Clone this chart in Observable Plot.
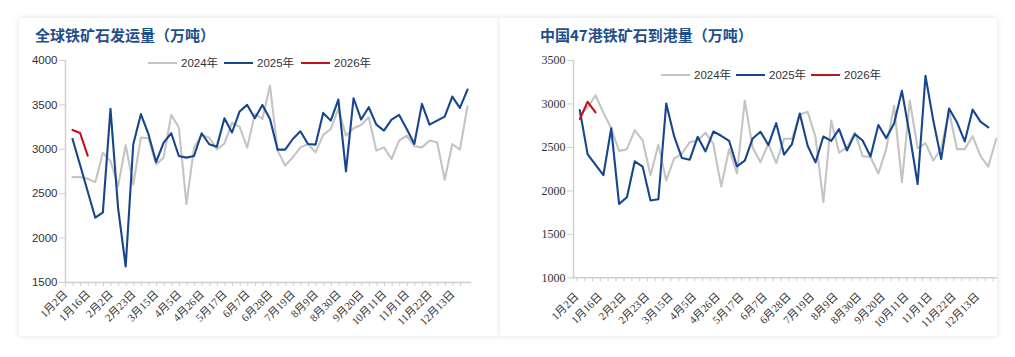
<!DOCTYPE html>
<html><head><meta charset="utf-8">
<script src="https://cdn.jsdelivr.net/npm/d3@7"></script>
<script src="https://cdn.jsdelivr.net/npm/@observablehq/plot@0.6"></script>
<style>
body{margin:0;background:#fff;width:1015px;height:357px;position:relative;overflow:hidden;font-family:"Noto Sans CJK SC",sans-serif;}
.card{position:absolute;top:18px;height:318px;background:#fff;box-shadow:0 0 6px rgba(0,0,0,0.12);}
.title{position:absolute;font-weight:700;color:#1F4E8C;font-size:15px;line-height:20px;font-family:"Noto Sans CJK SC",sans-serif;white-space:nowrap;}
.item{position:absolute;display:flex;align-items:center;font-size:11.5px;color:#333;line-height:14px;white-space:nowrap;font-family:"Liberation Sans","Noto Sans CJK SC",sans-serif;}
.sw{display:inline-block;width:29px;height:0;border-top:2.5px solid;margin-right:4px;}
.plot{position:absolute}
</style></head><body>
<div class="card" style="left:19px;width:481px"></div>
<div class="card" style="left:500px;width:497px"></div>
<div class="title" style="left:35px;top:25px">全球铁矿石发运量（万吨）</div>
<div class="title" style="left:540px;top:25px">中国47港铁矿石到港量（万吨）</div>
<div id="legL"></div><div id="legR"></div>
<div id="left" class="plot" style="left:20px;top:40px"></div>
<div id="right" class="plot" style="left:505px;top:40px"></div>
<script>
// categories (weekly)
const categories = ["1月2日","1月5日","1月12日","1月16日","1月19日","1月26日","2月2日","2月9日","2月16日","2月23日","3月2日","3月8日","3月15日","3月22日","3月29日","4月5日","4月12日","4月19日","4月26日","5月3日","5月10日","5月17日","5月24日","5月31日","6月7日","6月14日","6月21日","6月28日","7月5日","7月12日","7月19日","7月26日","8月2日","8月9日","8月16日","8月23日","8月30日","9月6日","9月13日","9月20日","9月27日","10月4日","10月11日","10月18日","10月25日","11月1日","11月8日","11月15日","11月22日","11月29日","12月6日","12月13日","12月20日","12月27日"];
const tickLabels = ["1月2日","1月16日","2月2日","2月23日","3月15日","4月5日","4月26日","5月17日","6月7日","6月28日","7月19日","8月9日","8月30日","9月20日","10月11日","11月1日","11月22日","12月13日"];
const seriesNames = ["2024年","2025年","2026年"];
const seriesColors = ["#c4c4c4","#17468c","#c0121c"];

// 全球铁矿石发运量
const shipTicks = [1500,2000,2500,3000,3500,4000];
const ship2024 = [2687,2687,2668,2630,2962,2868,2585,3045,2604,3132,
 3124,2830,2906,3388,3245,2385,3019,3158,3132,3000,
 3064,3300,3253,3019,3396,3342,3718,2985,2816,2910,
 3022,3060,2966,3162,3229,3455,3154,3237,3274,3361,
 2985,3022,2891,3098,3154,3034,3022,3098,3079,2658,
 3060,2996,3485];
const ship2025 = [3116,2823,null,2230,2289,3455,2340,1680,3057,3396,
 3170,2857,3075,3181,2925,2906,2925,3181,3057,3030,
 3350,3189,3426,3500,3350,3500,3340,2996,2996,3116,
 3203,3060,3053,3410,3323,3560,2752,3575,3335,3474,
 3278,3210,3335,3387,3229,3060,3511,3278,3323,3368,
 3594,3466,3673];
const ship2026 = [3218,3184,2928];

// 中国47港铁矿石到港量
const portTicks = [1000,1500,2000,2500,3000,3500];
const port2024 = [2870,2960,3100,2900,2720,2460,2480,2700,2580,2180,
 2530,2120,2370,2430,2560,2580,2670,2540,2050,2480,
 2200,3035,2500,2330,2540,2320,2600,2600,2880,2910,
 2620,1870,2810,2440,2500,2670,2400,2390,2200,2480,
 2980,2100,3040,2490,2550,2350,2490,2920,2480,2480,
 2630,2400,2280,2600];
const port2025 = [2929,2420,null,2180,2720,1851,1927,2340,2279,1889,
 1904,3004,2630,2378,2359,2622,2454,2683,2634,2576,
 2282,2347,2603,2680,2527,2779,2416,2538,2890,2519,
 2328,2626,2576,2710,2465,2653,2580,2395,2758,2607,
 2776,3151,2640,2079,3323,2806,2366,2948,2790,2569,
 2935,2797,2730];
const port2026 = [2826,3025,2902];

function rowsOf(cats, arrs){
  const rows=[];
  arrs.forEach((arr,k)=>arr.forEach((v,i)=>{ if(v!=null) rows.push({cat:cats[i], v, s:seriesNames[k]}); }));
  return rows;
}
const labelSet = new Set(tickLabels);

function chart(o){
  const cats = categories.slice(0, o.n);
  return Plot.plot({
    width:o.width, height:o.height,
    marginLeft:o.ml, marginRight:o.mr, marginTop:o.mt, marginBottom:o.mb,
    style:{background:"transparent", overflow:"visible"},
    x:{type:"point", domain:cats, range:o.xRange, padding:0, round:false},
    y:{domain:[o.ticks[0], o.ticks[o.ticks.length-1]]},
    color:{domain:seriesNames, range:seriesColors},
    marks:[
      Plot.axisY({ticks:o.ticks, tickFormat:d=>String(d), tickSize:6, tickPadding:2, stroke:"#d0d0d0", fill:"#333", fontSize:o.yFontSize, fontFamily:o.yFont, label:null}),
      Plot.axisX({ticks:cats, tickFormat:d=>labelSet.has(d)?d:"", tickRotate:-45, tickSize:4, tickPadding:o.xPad, dx:o.xDx, stroke:"#d0d0d0", fill:"#333", fontSize:11, fontFamily:"Liberation Serif, Noto Sans CJK SC, serif", label:null}),
      Plot.frame({anchor:"left", stroke:"#d0d0d0", strokeWidth:1.5}),
      Plot.frame({anchor:"bottom", stroke:"#d0d0d0", strokeWidth:1.5}),
      Plot.line(rowsOf(cats, o.data), {x:"cat", y:"v", z:"s", stroke:"s", strokeWidth:2.1})
    ]
  });
}

document.getElementById("left").append(chart({
  n:53, width:480, height:290, ml:45, mr:30, mt:20, mb:48, xRange:[52,447],
  ticks:shipTicks, yFont:"Liberation Sans, sans-serif", yFontSize:11.5, xPad:6, xDx:-7,
  data:[ship2024, ship2025, ship2026]
}));
document.getElementById("right").append(chart({
  n:54, width:495, height:290, ml:68, mr:4, mt:20, mb:52.7, xRange:[74.3,490.7],
  ticks:portTicks, yFont:"Liberation Serif, serif", yFontSize:12, xPad:13, xDx:-3,
  data:[port2024, port2025, port2026]
}));

function legend(id, xs, y){
  const el = document.getElementById(id);
  seriesNames.forEach((name,i)=>{
    const d = document.createElement("div");
    d.className="item";
    d.style.left = xs[i]+"px"; d.style.top = (y-7)+"px";
    d.innerHTML = `<span class="sw" style="border-color:${seriesColors[i]}"></span>${name}`;
    el.append(d);
  });
}
legend("legL", [148,224,301], 63);
legend("legR", [661,736,811], 75);
</script>
</body></html>
